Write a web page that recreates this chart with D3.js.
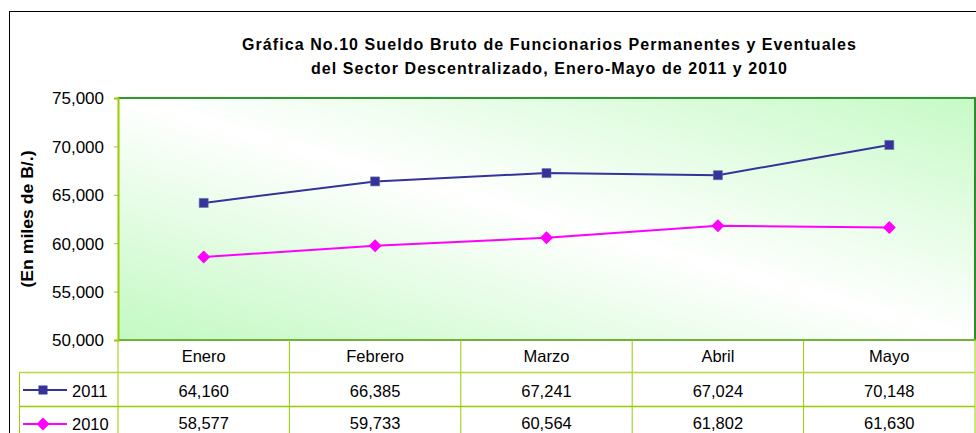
<!DOCTYPE html>
<html>
<head>
<meta charset="utf-8">
<script src="https://cdn.jsdelivr.net/npm/d3@7"></script>
<style>
  body { margin: 0; background: #fff; }
  text { font-family: "Liberation Sans", Arial, sans-serif; }
</style>
</head>
<body>
<div id="chart"></div>
<script>
const months = ["Enero", "Febrero", "Marzo", "Abril", "Mayo"]
const series_names = ["2011", "2010"]
const values_2011 = [64160, 66385, 67241, 67024, 70148]
const values_2010 = [58577, 59733, 60564, 61802, 61630]
const y_ticks = [50000, 55000, 60000, 65000, 70000, 75000]
const title_lines = [
  "Gráfica No.10 Sueldo Bruto de Funcionarios Permanentes y Eventuales",
  "del Sector Descentralizado, Enero-Mayo de 2011 y 2010"
]

const width = 976
const height = 433
const grid_color = "#99cc00"

const svg = d3.select("#chart")
  .append("svg")
  .attr("width", width)
  .attr("height", height)

// gradient fill of the plot area: green corners, white diagonal
const defs = svg.append("defs")
const grad = defs.append("linearGradient")
  .attr("id", "plotfill")
  .attr("x1", 0).attr("y1", 1).attr("x2", 1).attr("y2", 0)
grad.append("stop").attr("offset", "0").attr("stop-color", "#c2f9c2")
grad.append("stop").attr("offset", "0.5").attr("stop-color", "#ffffff")
grad.append("stop").attr("offset", "1").attr("stop-color", "#c6fac6")

// outer frame
svg.append("rect")
  .attr("x", 9.5).attr("y", 11.5)
  .attr("width", 1000).attr("height", 500)
  .attr("fill", "none")
  .attr("stroke", "#000")

const x = d3.scaleBand().domain(months).range([118, 975])
const y = d3.scaleLinear().domain([50000, 75000]).range([340, 98])

// title
svg.selectAll(".title")
  .data(title_lines)
  .join("text")
  .attr("class", "title")
  .attr("x", 549)
  .attr("y", (d, i) => 50 + i * 24)
  .attr("text-anchor", "middle")
  .style("font-size", "16px")
  .style("font-weight", "bold")
  .attr("textLength", (d, i) => i == 0 ? 614 : 476)
  .attr("lengthAdjust", "spacing")
  .text(d => d)

// plot area
svg.append("rect")
  .attr("x", 118).attr("y", 98)
  .attr("width", 975 - 118).attr("height", 340 - 98)
  .attr("fill", "url(#plotfill)")
svg.append("line").attr("x1", 118).attr("x2", 976).attr("y1", 98).attr("y2", 98)
  .attr("stroke", "#2e9a2e").attr("stroke-width", 2)
svg.append("line").attr("x1", 975).attr("x2", 975).attr("y1", 98).attr("y2", 340)
  .attr("stroke", "#2e8b2e").attr("stroke-width", 2)
svg.append("line").attr("x1", 118).attr("x2", 976).attr("y1", 340).attr("y2", 340)
  .attr("stroke", "#6fb23a").attr("stroke-width", 2)

// y axis
const yAxis = svg.append("g")
  .attr("transform", "translate(118,0)")
  .call(d3.axisLeft(y).tickValues(y_ticks).tickFormat(d3.format(",")).tickSize(4).tickPadding(10))
yAxis.select(".domain").attr("stroke", grid_color).attr("stroke-width", 2)
yAxis.selectAll(".tick line").attr("stroke", grid_color)
yAxis.selectAll(".tick text")
  .attr("fill", "#000")
  .style("font-size", "17px")
  .style("font-family", "'Liberation Sans', Arial, sans-serif")
  .attr("dy", "0.35em")

svg.append("text")
  .attr("transform", "translate(33,219) rotate(-90)")
  .attr("text-anchor", "middle")
  .style("font-size", "17px")
  .style("font-weight", "bold")
  .attr("textLength", 137)
  .attr("lengthAdjust", "spacingAndGlyphs")
  .text("(En miles de B/.)")

// lines and markers
const line = d3.line()
  .x((d, i) => x(months[i]) + x.bandwidth() / 2)
  .y(d => y(d))

svg.append("path")
  .datum(values_2011)
  .attr("d", line)
  .attr("fill", "none")
  .attr("stroke", "#333399")
  .attr("stroke-width", 2)
svg.append("path")
  .datum(values_2010)
  .attr("d", line)
  .attr("fill", "none")
  .attr("stroke", "#ff00ff")
  .attr("stroke-width", 2)

const square = d3.symbol().type(d3.symbolSquare).size(81)
const diamond = (s) => `M0,${-s}L${s},0L0,${s}L${-s},0Z`

svg.selectAll(".m2011")
  .data(values_2011)
  .join("path")
  .attr("class", "m2011")
  .attr("transform", (d, i) => `translate(${x(months[i]) + x.bandwidth() / 2},${y(d)})`)
  .attr("d", square)
  .attr("fill", "#333399")
  .attr("stroke", "#6666aa")
  .attr("stroke-width", 0.6)
svg.selectAll(".m2010")
  .data(values_2010)
  .join("path")
  .attr("class", "m2010")
  .attr("transform", (d, i) => `translate(${x(months[i]) + x.bandwidth() / 2},${y(d)})`)
  .attr("d", diamond(6.5))
  .attr("fill", "#ff00ff")

// data table
const table = svg.append("g")
table.selectAll(".vline")
  .data(months.map(m => x(m)).concat([975]))
  .join("line")
  .attr("x1", d => d).attr("x2", d => d)
  .attr("y1", 340).attr("y2", height)
  .attr("stroke", grid_color)
table.append("line")
  .attr("x1", 19.5).attr("x2", 19.5).attr("y1", 372).attr("y2", height)
  .attr("stroke", grid_color)
table.selectAll(".hline")
  .data([372.5, 406.5])
  .join("line")
  .attr("x1", 19).attr("x2", 975)
  .attr("y1", d => d).attr("y2", d => d)
  .attr("stroke", (d, i) => i == 0 ? "#b5d93a" : grid_color)
  .attr("stroke-width", 1.5)

table.selectAll(".month")
  .data(months)
  .join("text")
  .attr("x", d => x(d) + x.bandwidth() / 2)
  .attr("y", 362)
  .attr("text-anchor", "middle")
  .style("font-size", "16.5px")
  .text(d => d)

const fmt = d3.format(",")
const table_rows = [values_2011, values_2010]
table_rows.forEach((vals, r) => {
  table.selectAll(".val" + r)
    .data(vals)
    .join("text")
    .attr("x", (d, i) => x(months[i]) + x.bandwidth() / 2)
    .attr("y", r == 0 ? 397 : 429)
    .attr("text-anchor", "middle")
    .style("font-size", "16.5px")
    .text(d => fmt(d))
})

// legend keys inside the table
const legend_colors = ["#333399", "#ff00ff"]
series_names.forEach((name, r) => {
  const cy = r == 0 ? 390 : 424
  table.append("line")
    .attr("x1", 23).attr("x2", 67).attr("y1", cy).attr("y2", cy)
    .attr("stroke", legend_colors[r]).attr("stroke-width", 2)
  table.append("path")
    .attr("transform", `translate(43,${cy})`)
    .attr("d", r == 0 ? square : diamond(6.5))
    .attr("fill", legend_colors[r])
  table.append("text")
    .attr("x", 72)
    .attr("y", r == 0 ? 397 : 430)
    .style("font-size", "16.5px")
    .text(name)
})
</script>
</body>
</html>
